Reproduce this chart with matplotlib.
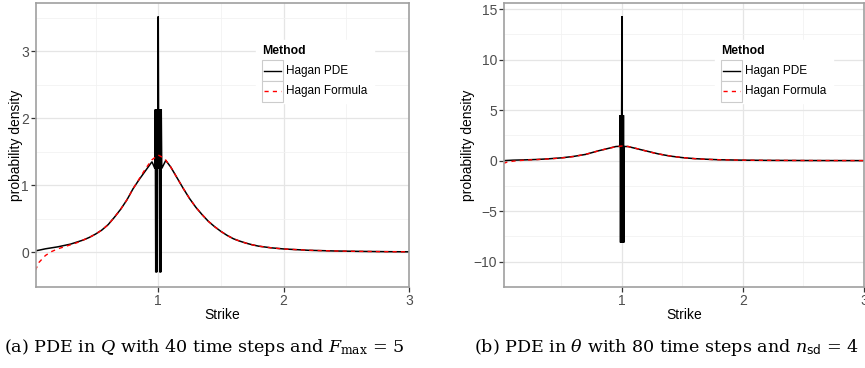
import numpy as np
import matplotlib.pyplot as plt
from matplotlib.patches import Rectangle
from matplotlib.lines import Line2D

plt.rcParams['font.family'] = ['Liberation Sans', 'DejaVu Sans']
plt.rcParams['mathtext.fontset'] = 'dejavuserif'

# densite de probabilite lisse (formule de Hagan)
strike = [0.02, 0.05, 0.1, 0.15, 0.2, 0.25, 0.3, 0.35, 0.4, 0.45, 0.5, 0.55, 0.6,
          0.65, 0.7, 0.75, 0.8, 0.85, 0.9, 0.95, 1.0, 1.05, 1.1, 1.15, 1.2, 1.25,
          1.3, 1.35, 1.4, 1.45, 1.5, 1.55, 1.6, 1.65, 1.7, 1.75, 1.8, 1.9, 2.0,
          2.2, 2.4, 2.6, 2.8, 3.0]
formula = [-0.27, -0.15, -0.05, 0.01, 0.05, 0.08, 0.11, 0.14, 0.18, 0.22, 0.27, 0.33, 0.41,
           0.52, 0.64, 0.78, 0.95, 1.1, 1.25, 1.38, 1.45, 1.4, 1.27, 1.11, 0.95, 0.8,
           0.67, 0.56, 0.46, 0.38, 0.31, 0.25, 0.2, 0.165, 0.135, 0.11, 0.09, 0.065, 0.048,
           0.028, 0.018, 0.012, 0.008, 0.005]

# PDE en Q : oscillations autour de K = 1
strike_q = [0.02, 0.05, 0.1, 0.15, 0.2, 0.25, 0.3, 0.35, 0.4, 0.45, 0.5, 0.55, 0.6,
            0.65, 0.7, 0.75, 0.8, 0.85, 0.9, 0.95, 0.973,
            0.976, 0.980, 0.984, 0.988, 0.992, 0.996, 1.0, 1.004, 1.008, 1.012,
            1.016, 1.020, 1.024, 1.028, 1.06, 1.1, 1.15, 1.2, 1.25,
            1.3, 1.35, 1.4, 1.45, 1.5, 1.55, 1.6, 1.65, 1.7, 1.75, 1.8, 1.9, 2.0,
            2.2, 2.4, 2.6, 2.8, 3.0]
pde_q = [0.02, 0.03, 0.05, 0.065, 0.08, 0.1, 0.12, 0.15, 0.18, 0.22, 0.27, 0.33, 0.41,
         0.52, 0.64, 0.78, 0.95, 1.09, 1.22, 1.35, 1.25,
         2.13, -0.3, 2.13, -0.3, 2.13, 1.25, 3.52, 1.25, 2.13, -0.3,
         2.13, -0.3, 2.13, 1.25, 1.37, 1.27, 1.11, 0.95, 0.8,
         0.67, 0.56, 0.46, 0.38, 0.31, 0.25, 0.2, 0.165, 0.135, 0.11, 0.09, 0.065, 0.048,
         0.028, 0.018, 0.012, 0.008, 0.005]

# PDE en theta : pic tres etroit en K = 1
strike_t = [0.02, 0.1, 0.2, 0.3, 0.4, 0.5, 0.6, 0.7, 0.8, 0.9, 0.95, 0.983,
            0.985, 0.988, 0.991, 0.994, 0.997, 1.0, 1.003, 1.006, 1.009, 1.012,
            1.015, 1.017, 1.05, 1.1, 1.2, 1.3, 1.4, 1.5, 1.6, 1.7, 1.8, 2.0,
            2.2, 2.5, 3.0]
pde_t = [0.0, 0.05, 0.08, 0.12, 0.19, 0.28, 0.42, 0.62, 0.96, 1.25, 1.4, 1.42,
         4.5, -8.1, 4.5, -8.1, 4.5, 14.3, -8.1, 4.5, -8.1, 4.5,
         -8.1, 1.4, 1.4, 1.25, 0.96, 0.67, 0.45, 0.3, 0.2, 0.14, 0.09, 0.05,
         0.03, 0.015, 0.005]

W, H = 865, 368
fig = plt.figure(figsize=(W / 100, H / 100), dpi=100)


def fr(x, y):
    return x / W, 1 - y / H


def panel(x0, x1, ylim, yticks, yminor, sk, pde, caption, cx, leg_x):
    ax = fig.add_axes([x0 / W, (H - 287) / H, (x1 - x0) / W, 284 / H])
    ax.set_xlim(0.025, 3.0)
    ax.set_ylim(*ylim)
    ax.set_xticks([1, 2, 3])
    ax.set_xticks([0.5, 1.5, 2.5], minor=True)
    ax.set_yticks(yticks)
    ax.set_yticks(yminor, minor=True)
    ax.grid(which='major', color='#e5e5e5', lw=0.9)
    ax.grid(which='minor', color='#f2f2f2', lw=0.6)
    ax.set_axisbelow(True)
    for s in ax.spines.values():
        s.set_color('#a0a0a0')
        s.set_linewidth(1.2)
    ax.tick_params(which='major', length=3.5, width=0.9, color='#333333',
                   labelcolor='#4d4d4d', labelsize=10, pad=1.5)
    ax.tick_params(which='minor', length=0)
    ax.plot(sk, pde, color='black', lw=1.1, solid_joinstyle='miter')
    ax.plot(strike, formula, color='#ff0000', lw=1.0, ls=(0, (3, 3)))
    ax.set_xlabel('Strike', fontsize=10, labelpad=0)
    ax.set_ylabel('probability density', fontsize=10, labelpad=-1)

    # legende
    fig.add_artist(Rectangle(fr(leg_x - 6, 103), 118 / W, 63 / H,
                             transform=fig.transFigure, color='white', zorder=5))
    fig.text(*fr(leg_x, 51), 'Method', fontsize=8.8, fontweight='bold',
             va='center', ha='left', zorder=6)
    for i, (c, ls, lab) in enumerate([('black', '-', 'Hagan PDE'),
                                       ('#ff0000', (0, (3, 3)), 'Hagan Formula')]):
        top = 60.5 + i * 20.5
        fig.add_artist(Rectangle(fr(leg_x, top + 20.5), 20.5 / W, 20.5 / H,
                                 transform=fig.transFigure, facecolor='white',
                                 edgecolor='#cccccc', lw=0.8, zorder=6))
        xa, ya = fr(leg_x + 2, top + 10.25)
        xb, _ = fr(leg_x + 18.5, top + 10.25)
        fig.add_artist(Line2D([xa, xb], [ya, ya], color=c, ls=ls, lw=1.0,
                              transform=fig.transFigure, zorder=7))
        fig.text(*fr(leg_x + 24, top + 10.25), lab, fontsize=8.5,
                 va='center', ha='left', zorder=7)

    fig.text(*fr(cx, 347), caption, fontsize=12.6, family='DejaVu Serif',
             ha='center', va='center')
    return ax


panel(36, 409, (-0.52, 3.72), [0, 1, 2, 3], [0.5, 1.5, 2.5, 3.5],
      strike_q, pde_q,
      r'(a) PDE in $Q$ with 40 time steps and $F_{\mathrm{max}}$ = 5', 204, 262)
panel(504, 864, (-12.1, 15.6), [-10, -5, 0, 5, 10, 15], [-12.5, -7.5, -2.5, 2.5, 7.5, 12.5],
      strike_t, pde_t,
      r'(b) PDE in $\theta$ with 80 time steps and $n_{\mathsf{sd}}$ = 4', 667, 721)

fig.savefig('out.png', dpi=100)
